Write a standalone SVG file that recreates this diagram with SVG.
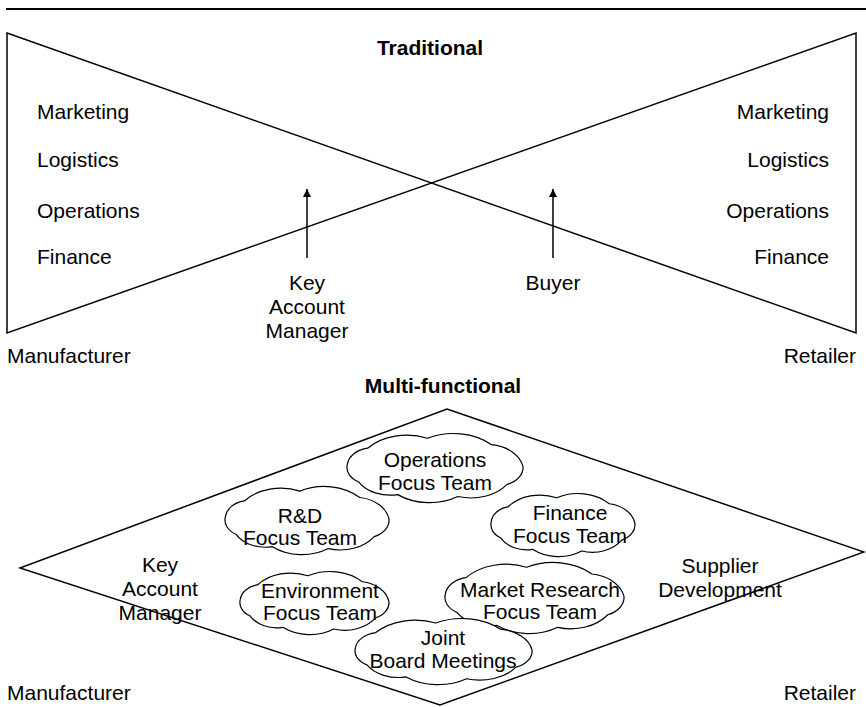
<svg xmlns="http://www.w3.org/2000/svg" xmlns:xlink="http://www.w3.org/1999/xlink" width="866" height="707" viewBox="0 0 866 707">
<style>
text{font-family:"Liberation Sans",Arial,sans-serif;font-size:21px;fill:#000}
.b{font-weight:bold}
.m{text-anchor:middle}
.e{text-anchor:end}
.ln{fill:none;stroke:#000;stroke-width:1.5}
.cl{fill:#fff;stroke:#000;stroke-width:1.2;vector-effect:non-scaling-stroke}
</style>
<defs>
<path id="cloud" class="cl" d="M97,26 A13.3,13.3 0 0 1 88.5,39.2 A23.6,23.6 0 0 1 62.2,48.2 A27.3,27.3 0 0 1 30.1,46.8 A19.4,19.4 0 0 1 9.3,37.5 A12.4,12.4 0 0 1 3.2,24.2 A13.5,13.5 0 0 1 14,12.5 A27.8,27.8 0 0 1 45.9,5.1 A29.4,29.4 0 0 1 80.2,9.9 A19.8,19.8 0 0 1 97,26 Z"/>
<marker id="ah" viewBox="0 0 10 10" refX="10" refY="5" markerWidth="8" markerHeight="10" markerUnits="userSpaceOnUse" orient="auto">
<path d="M0,0 L10,5 L0,10 Z" fill="#000"/>
</marker>
</defs>
<line x1="6" y1="9" x2="866" y2="9" stroke="#000" stroke-width="2"/>
<g id="traditional">
<path class="ln" d="M7,33 L856,333 L856,33 L7,333 Z"/>
<text class="b m" x="430" y="55">Traditional</text>
</g>
<g id="manufacturer-top">
<text x="37" y="119">Marketing</text>
<text x="37" y="167">Logistics</text>
<text x="37" y="218">Operations</text>
<text x="37" y="264">Finance</text>
<text x="7" y="363">Manufacturer</text>
</g>
<g id="retailer-top">
<text class="e" x="829" y="119">Marketing</text>
<text class="e" x="829" y="167">Logistics</text>
<text class="e" x="829" y="218">Operations</text>
<text class="e" x="829" y="264">Finance</text>
<text class="e" x="856" y="363">Retailer</text>
</g>
<g id="kam-top">
<text class="m" x="307" y="290">Key</text>
<text class="m" x="307" y="314">Account</text>
<text class="m" x="307" y="338">Manager</text>
</g>
<g id="buyer">
<text class="m" x="553" y="290">Buyer</text>
</g>
<g id="connectors">
<line x1="307" y1="258" x2="307" y2="189" stroke="#000" stroke-width="1.5" marker-end="url(#ah)"/>
<line x1="553" y1="258" x2="553" y2="189" stroke="#000" stroke-width="1.5" marker-end="url(#ah)"/>
</g>
<g id="multifunctional">
<text class="b m" x="443" y="393">Multi-functional</text>
<path class="ln" d="M20,568 L447,409 L864,552 L440,705 Z"/>
</g>
<g id="kam-bottom">
<text class="m" x="160" y="572">Key</text>
<text class="m" x="160" y="596">Account</text>
<text class="m" x="160" y="620">Manager</text>
</g>
<g id="supplier-development">
<text class="m" x="720" y="573">Supplier</text>
<text class="m" x="720" y="597">Development</text>
</g>
<g id="operations-team">
<use xlink:href="#cloud" transform="translate(341.4,431.3) scale(1.872,1.353)"/>
<text class="m" x="435" y="467">Operations</text>
<text class="m" x="435" y="490">Focus Team</text>
</g>
<g id="rd-team">
<use xlink:href="#cloud" transform="translate(219.8,484.3) scale(1.745,1.333)"/>
<text class="m" x="300" y="523">R&amp;D</text>
<text class="m" x="300" y="545">Focus Team</text>
</g>
<g id="finance-team">
<use xlink:href="#cloud" transform="translate(486.4,491.5) scale(1.532,1.235)"/>
<text class="m" x="570" y="520">Finance</text>
<text class="m" x="570" y="543">Focus Team</text>
</g>
<g id="environment-team">
<use xlink:href="#cloud" transform="translate(235.2,569.5) scale(1.585,1.235)"/>
<text class="m" x="320" y="598">Environment</text>
<text class="m" x="320" y="620">Focus Team</text>
</g>
<g id="market-research-team">
<use xlink:href="#cloud" transform="translate(439.3,560.2) scale(1.904,1.392)"/>
<text class="m" x="540" y="597">Market Research</text>
<text class="m" x="540" y="619">Focus Team</text>
</g>
<g id="joint-board">
<use xlink:href="#cloud" transform="translate(349.4,616.4) scale(1.883,1.294)"/>
<text class="m" x="443" y="645">Joint</text>
<text class="m" x="443" y="668">Board Meetings</text>
</g>
<g id="manufacturer-bottom">
<text x="7" y="700">Manufacturer</text>
</g>
<g id="retailer-bottom">
<text class="e" x="856" y="700">Retailer</text>
</g>
</svg>
